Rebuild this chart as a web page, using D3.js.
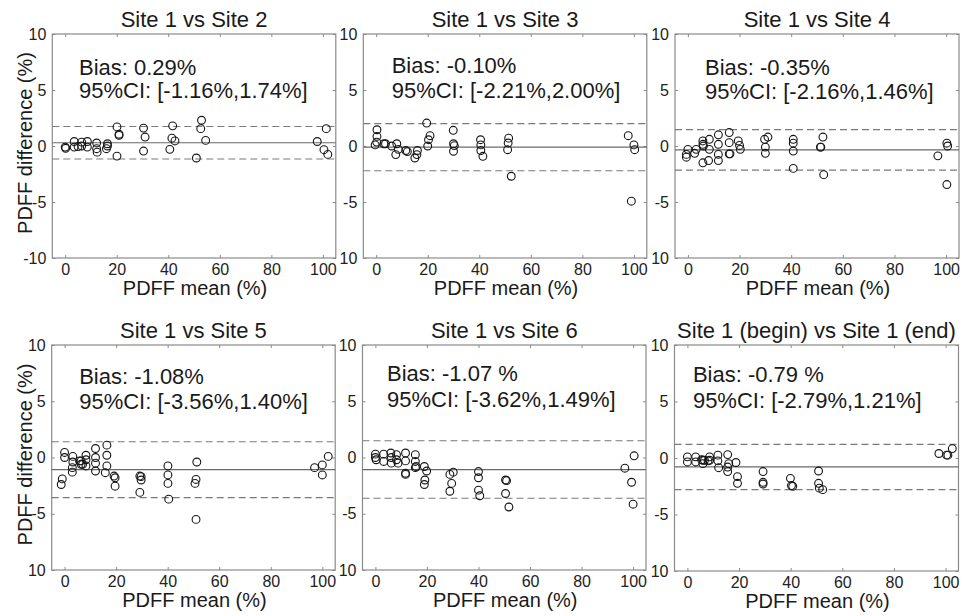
<!DOCTYPE html>
<html><head><meta charset="utf-8">
<script src="https://cdn.jsdelivr.net/npm/d3@7"></script>
<style>body{margin:0;background:#fff}svg{display:block}</style>
</head><body>
<svg id="c" width="965" height="616"></svg>
<script>
// ---------- data ----------
const titles = ["Site 1 vs Site 2","Site 1 vs Site 3","Site 1 vs Site 4","Site 1 vs Site 5","Site 1 vs Site 6","Site 1 (begin) vs Site 1 (end)"];
const biasLabels = ["Bias: 0.29%","Bias: -0.10%","Bias: -0.35%","Bias: -1.08%","Bias: -1.07 %","Bias: -0.79 %"];
const ciLabels = ["95%CI: [-1.16%,1.74%]","95%CI: [-2.21%,2.00%]","95%CI: [-2.16%,1.46%]","95%CI: [-3.56%,1.40%]","95%CI: [-3.62%,1.49%]","95%CI: [-2.79%,1.21%]"];
const bias = [0.29,-0.10,-0.35,-1.08,-1.07,-0.79];
const ciLow = [-1.16,-2.21,-2.16,-3.56,-3.62,-2.79];
const ciHigh = [1.74,2.00,1.46,1.40,1.49,1.21];
const xTicks = [0,20,40,60,80,100];
const yTicks = [-10,-5,0,5,10];
const yTickLabelsFirst = ["-10","-5","0","5","10"];
const yTickLabelsOther = ["10","-5","0","5","10"];
const xLabel = "PDFF mean (%)";
const yLabel = "PDFF difference (%)";

const p1x = [0,0.2,3.5,3.5,6.4,6.4,5,8.6,8.6,12.2,12.2,12.4,16,16.4,16.4,20.1,20.1,20.9,20.9,30.4,31,30.4,41.7,40.6,41.4,42.6,50.9,52.9,52.6,54.5,97.8,101.3,100.4,101.9];
const p1y = [-0.1,-0.2,-0.1,0.4,0,0.35,-0.05,0.4,-0.1,0.27,-0.24,-0.55,-0.24,0.2,0,1.7,-0.9,1.05,0.95,1.6,0.8,-0.45,1.8,-0.3,0.7,0.45,-1.07,2.3,1.55,0.5,0.4,1.55,-0.33,-0.75];

const p2x = [0.3,0.3,-0.4,0.2,3,3.6,6,8,7.6,8.6,11.5,12.1,15,15.8,16,19.6,20,20.3,20.9,29.9,30,30,30.3,40.5,40.6,40.6,41.4,51.4,51.2,51,52.4,97.8,100,100.3,99];
const p2y = [1.45,0.86,0.1,0.35,0.2,0.2,0,0.2,-0.77,-0.3,-0.4,-0.5,-1.07,-0.77,-0.4,2.05,0,0.56,0.92,1.4,0.2,-0.47,0.03,0.56,0.1,-0.4,-0.92,0.7,0.27,-0.33,-2.7,0.92,0.1,-0.33,-4.93];

const p3x = [-0.6,-0.6,0,2.6,3.2,5.8,5.8,6,5.8,8,8.3,8.3,11.8,11.8,11.8,11.8,16,16,16,16.3,19.5,20,20.3,29.7,31,30,30,40.8,40.8,40.8,40.8,51.3,51.5,52.3,52.6,96.8,100.3,100.6,100.3];
const p3y = [-1.0,-0.75,-0.3,-0.65,-0.3,0.15,0.45,0,-1.5,-1.3,0.6,-0.3,1.0,0.15,-0.75,-1.3,1.2,0.3,-0.7,-0.7,0.45,0.05,-0.3,0.6,0.8,-0.1,-0.65,0.6,0.25,-0.45,-2.0,-0.1,-0.1,0.8,-2.56,-0.88,0.25,0,-3.44];

const p4x = [-1.3,-0.9,0,0,3.2,3.2,3,3,5.8,6.4,7,6.4,8.3,8.3,8.3,12,12,12,12,16.4,16.4,16.4,15.8,19.2,19.6,19.6,29.2,29.7,29.7,29.2,40.1,40.1,40.1,40.4,51.3,51,50.6,51,97,100,100,102.3];
const p4y = [-2.4,-1.9,0.45,0,0.1,-0.4,-0.9,-1.3,-0.3,-0.3,-0.6,-0.6,0.2,-0.2,-0.75,0.8,0,-0.5,-1.2,1.1,0.2,-0.75,-1.35,-1.65,-1.8,-2.55,-1.65,-1.7,-2.0,-3.1,-0.75,-1.55,-2.3,-3.7,-0.4,-1.95,-2.3,-5.5,-0.9,-0.66,-1.55,0.1];

const p5x = [0,0,0.3,3.2,3.2,6,6.2,6.2,8.2,8.2,8.8,11.7,11.7,11.7,11.7,15.5,15.5,15.5,15.8,19,19.9,19.2,19,28.9,30.2,29.6,28.9,40,40,40,40.5,50.5,50.9,50.5,51.8,96.8,100.4,99.4,100];
const p5y = [0.3,0,-0.2,0.3,-0.35,0.4,0,-0.5,0.25,-0.2,-0.5,0.4,-0.3,-1.4,-1.5,0.25,-0.35,-0.9,-0.8,-0.8,-1.2,-2.0,-2.4,-1.5,-1.3,-2.3,-3.0,-1.25,-1.8,-2.9,-3.4,-2.0,-2.05,-3.2,-4.4,-0.95,0.15,-2.2,-4.15];

const p6x = [0,0,3.2,3.2,5.5,6,6.6,6,8.6,8.6,8,11.8,11.8,12.1,15.6,16,15.6,15.6,18.8,19.4,19.4,29.3,29.3,29.3,39.9,40.3,40.8,50.8,50.8,51.1,52.4,97.4,100.4,100.9,102.6];
const p6y = [0.1,-0.35,0.1,-0.35,-0.15,-0.2,-0.2,-0.5,0.1,-0.2,-0.25,0.25,-0.25,-0.86,0.3,-0.5,-0.8,-1.2,-0.4,-1.65,-2.24,-1.2,-2.15,-2.3,-1.8,-2.44,-2.5,-1.15,-2.24,-2.67,-2.8,0.4,0.25,0.25,0.83];

const seriesX = [p1x,p2x,p3x,p4x,p5x,p6x];
const seriesY = [p1y,p2y,p3y,p4y,p5y,p6y];

// ---------- layout ----------
const boxes = [
  {x:52.3, y:34,  w:283.5, h:224},
  {x:363.3,y:34,  w:283.5, h:224},
  {x:675,  y:34,  w:284,   h:224},
  {x:51.7, y:345, w:283.5, h:225},
  {x:362.5,y:345, w:283.5, h:225},
  {x:674.5,y:345, w:284,   h:226}
];
const annot = [
  {dx:26.7, dy1:41, dy2:64},
  {dx:28.4, dy1:39, dy2:64},
  {dx:30,   dy1:41, dy2:65},
  {dx:27.5, dy1:39, dy2:64},
  {dx:24.5, dy1:36, dy2:62},
  {dx:18.4, dy1:37, dy2:63}
];
const FONT = "'Liberation Sans', Arial, Helvetica, sans-serif";
const svg = d3.select("#c");

boxes.forEach((b, i) => {
  const x = d3.scaleLinear().domain([-5,105]).range([b.x, b.x + b.w]);
  const y = d3.scaleLinear().domain([-10,10]).range([b.y + b.h, b.y]);
  const g = svg.append("g");

  g.append("rect").attr("x", b.x).attr("y", b.y).attr("width", b.w).attr("height", b.h)
    .attr("fill", "#fff").attr("stroke", "#8a8a8a").attr("stroke-width", 1.2);

  const axB = d3.axisBottom(x).tickValues(xTicks).tickSize(-3).tickPadding(6).tickFormat(d3.format("d"));
  const axT = d3.axisTop(x).tickValues(xTicks).tickSize(-3).tickFormat("");
  const yLabs = i === 0 ? yTickLabelsFirst : yTickLabelsOther;
  const axL = d3.axisLeft(y).tickValues(yTicks).tickSize(-3).tickPadding(6).tickFormat((d, k) => yLabs[k]);
  const axR = d3.axisRight(y).tickValues(yTicks).tickSize(-3).tickFormat("");

  const gb = g.append("g").attr("transform", `translate(0,${b.y + b.h})`).call(axB);
  const gt = g.append("g").attr("transform", `translate(0,${b.y})`).call(axT);
  const gl = g.append("g").attr("transform", `translate(${b.x},0)`).call(axL);
  const gr = g.append("g").attr("transform", `translate(${b.x + b.w},0)`).call(axR);
  [gb, gt, gl, gr].forEach(a => {
    a.select(".domain").remove();
    a.selectAll(".tick line").attr("stroke", "#8a8a8a").attr("stroke-width", 1);
    a.selectAll("text").attr("font-family", FONT).attr("font-size", 16).attr("fill", "#222");
  });
  gb.selectAll("text").attr("dy", "0.71em");

  g.append("line").attr("x1", b.x).attr("x2", b.x + b.w).attr("y1", y(bias[i])).attr("y2", y(bias[i]))
    .attr("stroke", "#6a6a6a").attr("stroke-width", 1.2);
  [ciLow[i], ciHigh[i]].forEach(v => {
    g.append("line").attr("x1", b.x).attr("x2", b.x + b.w).attr("y1", y(v)).attr("y2", y(v))
      .attr("stroke", "#7a7a7a").attr("stroke-width", 1.2).attr("stroke-dasharray", "7,4");
  });

  g.append("g").selectAll("circle").data(seriesX[i].map((v, k) => [v, seriesY[i][k]])).join("circle")
    .attr("cx", d => x(d[0])).attr("cy", d => y(d[1])).attr("r", 3.9)
    .attr("fill", "none").attr("stroke", "#151515").attr("stroke-width", 1.1);

  const a = annot[i];
  g.append("text").attr("x", b.x + a.dx).attr("y", b.y + a.dy1).text(biasLabels[i])
    .attr("font-family", FONT).attr("font-size", 22).attr("fill", "#1a1a1a");
  g.append("text").attr("x", b.x + a.dx).attr("y", b.y + a.dy2).text(ciLabels[i])
    .attr("font-family", FONT).attr("font-size", 22).attr("fill", "#1a1a1a");

  g.append("text").attr("x", b.x + b.w / 2).attr("y", b.y - 7).attr("text-anchor", "middle")
    .text(titles[i]).attr("font-family", FONT).attr("font-size", 22).attr("fill", "#1a1a1a");

  g.append("text").attr("x", b.x + b.w / 2 + 1).attr("y", b.y + b.h + 37).attr("text-anchor", "middle")
    .text(xLabel).attr("font-family", FONT).attr("font-size", 20).attr("fill", "#1a1a1a");

  if (i === 0 || i === 3) {
    g.append("text").attr("transform", `translate(${b.x - 20},${b.y + b.h / 2 - 3}) rotate(-90)`)
      .attr("text-anchor", "middle").text(yLabel)
      .attr("font-family", FONT).attr("font-size", 20).attr("fill", "#1a1a1a");
  }
});
</script>
</body></html>
